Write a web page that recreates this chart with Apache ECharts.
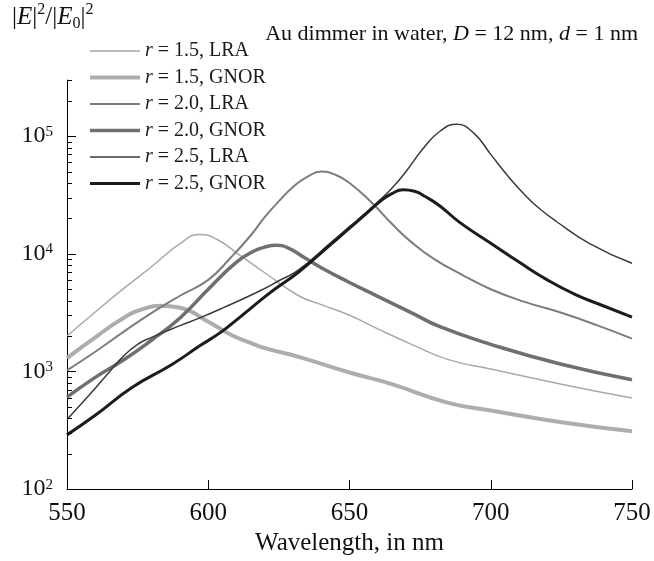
<!DOCTYPE html>
<html><head><meta charset="utf-8">
<script src="https://cdn.jsdelivr.net/npm/echarts@6/dist/echarts.min.js"></script>
<style>html,body{margin:0;padding:0;background:#fff}#c{width:654px;height:561px}</style>
</head><body><div id="c"></div>
<script>
// ---------- data ----------
const seriesNames = ['r = 1.5, LRA', 'r = 1.5, GNOR', 'r = 2.0, LRA', 'r = 2.0, GNOR', 'r = 2.5, LRA', 'r = 2.5, GNOR'];

const wl15LRA  = [550, 560, 570, 580, 590, 597, 603, 611, 620, 632, 640, 650, 660, 672, 685, 700, 725, 750];
const val15LRA = [2000, 3200, 5050, 7800, 12200, 14600, 13300, 9800, 6900, 4400, 3700, 3000, 2300, 1700, 1260, 1050, 780, 595];

const wl15GNOR  = [550, 560, 570, 577, 583, 590, 600, 608, 615, 620, 632, 650, 665, 685, 700, 725, 750];
const val15GNOR = [1300, 1950, 2850, 3400, 3620, 3480, 2650, 2050, 1750, 1580, 1330, 980, 780, 540, 465, 370, 310];

const wl20LRA  = [550, 560, 570, 580, 590, 600, 608, 615, 620, 625, 630, 635, 640, 645, 650, 658, 665, 672, 680, 690, 700, 712, 725, 738, 750];
const val20LRA = [1020, 1470, 2170, 3150, 4400, 6000, 9300, 14300, 20500, 28000, 37000, 45000, 50000, 47000, 40000, 27000, 18000, 12500, 9000, 6600, 5000, 3900, 3150, 2450, 1900];

const wl20GNOR  = [550, 560, 570, 580, 590, 600, 610, 616, 620, 624, 628, 634, 640, 650, 660, 672, 682, 700, 725, 750];
const val20GNOR = [604, 890, 1250, 1850, 2850, 5000, 8500, 10500, 11400, 11800, 11300, 9300, 7600, 5700, 4350, 3150, 2400, 1700, 1150, 850];

const wl25LRA  = [550, 555, 560, 565, 570, 575, 580, 590, 597, 605, 618, 625, 632, 643, 650, 655, 661, 665, 670, 676, 682, 688, 694, 700, 706, 712, 717, 723, 735, 750];
const val25LRA = [390, 530, 720, 990, 1350, 1700, 1950, 2450, 2850, 3450, 4800, 5900, 7300, 12200, 17000, 21500, 29000, 36000, 50000, 78000, 110000, 126000, 106000, 70000, 46000, 31800, 24500, 19000, 12200, 8300];

const wl25GNOR  = [550, 560, 573, 587, 597, 605, 612, 620, 625, 632, 643, 650, 655, 661, 665, 669, 673, 677, 682, 689, 700, 710, 720, 730, 740, 750];
const val25GNOR = [289, 424, 730, 1140, 1650, 2200, 3000, 4300, 5300, 7000, 11800, 16500, 21000, 28000, 32500, 35000, 34000, 30500, 25500, 18500, 12300, 8500, 6000, 4500, 3600, 2900];

const xTickValues = [550, 600, 650, 700, 750];
const yMajorTicks = [100, 1000, 10000, 100000];
const yMinorTicks = [200, 300, 400, 500, 600, 700, 800, 900,
                     2000, 3000, 4000, 5000, 6000, 7000, 8000, 9000,
                     20000, 30000, 40000, 50000, 60000, 70000, 80000, 90000,
                     200000, 300000];

// ---------- styles ----------
const FONT = '"Liberation Serif", "Times New Roman", serif';
const lineColors = ['#a9a9a9', '#adadad', '#7d7d7d', '#6f6f6f', '#3a3a3a', '#1c1c1c'];
const lineWidths = [1.5, 4, 2, 3.5, 1.5, 3];

const wls = [wl15LRA, wl15GNOR, wl20LRA, wl20GNOR, wl25LRA, wl25GNOR];
const vals = [val15LRA, val15GNOR, val20LRA, val20GNOR, val25LRA, val25GNOR];

const xMin = xTickValues[0], xMax = xTickValues[xTickValues.length - 1];

const lineSeries = seriesNames.map((name, k) => ({
  type: 'line',
  name: name,
  data: wls[k].map((x, i) => [x, vals[k][i]]),
  smooth: 0.5,
  symbol: 'none',
  showSymbol: false,
  lineStyle: { color: lineColors[k], width: lineWidths[k] },
  itemStyle: { color: lineColors[k] },
  emphasis: { disabled: true },
  z: 2 + k
}));

const allYTicks = yMajorTicks.concat(yMinorTicks);
const tickSeries = {
  type: 'custom',
  name: '__yticks',
  silent: true,
  clip: false,
  z: 10,
  data: allYTicks.map(v => [xMin, v]),
  renderItem: function (params, api) {
    const v = api.value(1);
    const p = api.coord([api.value(0), v]);
    const len = yMajorTicks.indexOf(v) >= 0 ? 9 : 5;
    const y = Math.round(p[1]) + 0.5;
    return { type: 'line', shape: { x1: p[0], y1: y, x2: p[0] + len, y2: y }, style: { stroke: '#000', lineWidth: 1 } };
  }
};

const chart = echarts.init(document.getElementById('c'), null, { renderer: 'canvas' });
chart.setOption({
  animation: false,
  backgroundColor: '#fff',
  grid: { left: 67, right: 22, top: 80, bottom: 65, containLabel: false },
  legend: {
    data: seriesNames,
    orient: 'vertical',
    left: 88,
    top: 41,
    padding: 0,
    itemWidth: 50,
    itemHeight: 20,
    itemGap: 6.5,
    selectedMode: false,
    itemStyle: { opacity: 0 },
    lineStyle: { width: 'inherit' },
    formatter: name => '{i|' + name.charAt(0) + '}' + name.substring(1),
    textStyle: {
      fontFamily: FONT, fontSize: 20, color: '#1a1a1a', lineHeight: 20,
      rich: { i: { fontFamily: FONT, fontSize: 20, fontStyle: 'italic', color: '#1a1a1a' } }
    }
  },
  xAxis: {
    type: 'value',
    min: xMin, max: xMax, interval: 50,
    name: 'Wavelength, in nm',
    nameLocation: 'middle',
    nameGap: 38,
    nameTextStyle: { fontFamily: FONT, fontSize: 25, color: '#111' },
    axisLine: { show: true, lineStyle: { color: '#000', width: 1 } },
    axisTick: { show: true, inside: true, length: 9, lineStyle: { color: '#000', width: 1 } },
    axisLabel: { margin: 12, fontFamily: FONT, fontSize: 25, color: '#111' },
    splitLine: { show: false }
  },
  yAxis: {
    type: 'log',
    logBase: 10,
    min: yMajorTicks[0], max: 300000,
    axisLine: { show: true, lineStyle: { color: '#000', width: 1 } },
    axisTick: { show: false },
    minorTick: { show: false },
    splitLine: { show: false },
    axisLabel: {
      margin: 14,
      formatter: function (value) {
        const e = Math.log10(value);
        if (Math.abs(e - Math.round(e)) > 1e-6) return '';
        return '{b|10}{s|' + Math.round(e) + '}';
      },
      rich: {
        b: { fontFamily: FONT, fontSize: 24, color: '#111', lineHeight: 24 },
        s: { fontFamily: FONT, fontSize: 15, color: '#111', lineHeight: 14, verticalAlign: 'top' }
      }
    }
  },
  graphic: [
    {
      type: 'text', left: 12, top: 2, silent: true,
      style: {
        text: '{n||}{i|E}{n||}{p|2}{n|/|}{i|E}{d|0}{n||}{p|2}',
        fill: '#111',
        rich: {
          n: { fontFamily: FONT, fontSize: 25, lineHeight: 30, fill: '#111' },
          i: { fontFamily: FONT, fontSize: 25, fontStyle: 'italic', lineHeight: 30, fill: '#111' },
          p: { fontFamily: FONT, fontSize: 16, verticalAlign: 'top', lineHeight: 16, fill: '#111' },
          d: { fontFamily: FONT, fontSize: 16, verticalAlign: 'bottom', lineHeight: 16, fill: '#111' }
        }
      }
    },
    {
      type: 'text', right: 16, top: 23, silent: true,
      style: {
        text: 'Au dimmer in water, {i|D} = 12 nm, {i|d} = 1 nm',
        fontFamily: FONT, fontSize: 22, fill: '#111',
        rich: { i: { fontFamily: FONT, fontSize: 22, fontStyle: 'italic', fill: '#111' } }
      }
    }
  ],
  series: lineSeries.concat([tickSeries])
});
</script>
</body></html>
